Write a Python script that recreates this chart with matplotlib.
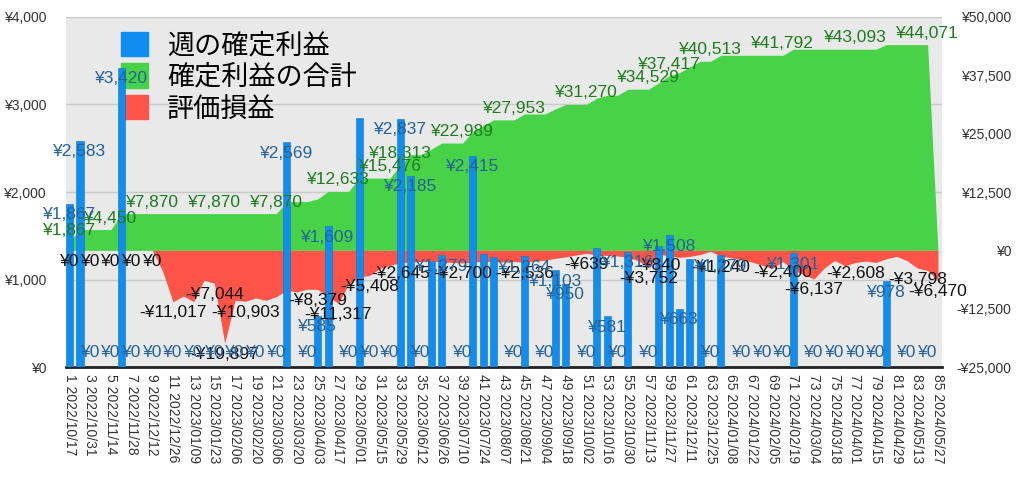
import matplotlib
matplotlib.use("Agg")
import matplotlib.pyplot as plt
import pandas as pd

plt.rcParams['font.family'] = ['Noto Sans CJK JP', 'DejaVu Sans']
NUM_FONT = ['Liberation Sans', 'DejaVu Sans']

# week numbers and start dates
weeks = list(range(1, 86))
dates = pd.date_range('2022-10-17', periods=85, freq='7D').strftime('%Y/%m/%d').tolist()

# 週の確定利益 (bars, left axis) - week 85 has no value
weekly = [1867, 2583, 0, 0, 0, 3420, 0, 0, 0, 0,
          0, 0, 0, 0, 0, 0, 0, 0, 0, 0,
          0, 2569, 0, 0, 585, 1609, 0, 0, 2843, 0,
          0, 0, 2837, 2185, 0, 1212, 1279, 0, 0, 2415,
          1292, 1257, 0, 0, 1264, 0, 0, 1103, 950, 0,
          0, 1362, 581, 0, 1316, 0, 0, 1380, 1508, 663,
          1230, 1203, 0, 1279, 0, 0, 0, 0, 0, 0,
          1301, 0, 0, 0, 0, 0, 0, 0, 0, 978,
          0, 0, 0, 0, None]

# 確定利益の合計 (green area, right axis)
cumulative = [1867, 4450, 4450, 4450, 4450, 7870, 7870, 7870, 7870, 7870,
              7870, 7870, 7870, 7870, 7870, 7870, 7870, 7870, 7870, 7870,
              7870, 10439, 10439, 10439, 11024, 12633, 12633, 12633, 15476, 15476,
              15476, 15476, 18313, 20498, 20498, 21710, 22989, 22989, 22989, 25404,
              26696, 27953, 27953, 27953, 29217, 29217, 29217, 30320, 31270, 31270,
              31270, 32632, 33213, 33213, 34529, 34529, 34529, 35909, 37417, 38080,
              39310, 40513, 40513, 41792, 41792, 41792, 41792, 41792, 41792, 41792,
              43093, 43093, 43093, 43093, 43093, 43093, 43093, 43093, 43093, 44071,
              44071, 44071, 44071, 44071, 0]

# 評価損益 (red area, right axis)
unrealized = [0, 0, 0, 0, 0, 0, 0, 0, 0, -4500,
              -11017, -9800, -11000, -6400, -7044, -19897, -10700, -10903, -10200, -10700,
              -9900, -8600, -8900, -8300, -8379, -10000, -11317, -7150, -5700, -5408,
              -3900, -3200, -2645, -2500, -2400, -2300, -2500, -2600, -2700, -2500,
              -2400, -2400, -2500, -2400, -2536, -2300, -2100, -1700, -1400, -1000,
              -639, -1000, -1100, -1200, -1500, -2200, -3752, -840, -1200, -1500,
              -1300, -900, -200, -1240, -1600, -2000, -2500, -3200, -3800, -2400,
              -4200, -5200, -6137, -3800, -2150, -3300, -2608, -2300, -2600, -1800,
              -1300, -2200, -3798, -4300, -6470]

# weeks whose value labels are visible in the original
weekly_shown = [1, 2, 3, 5, 6, 7, 9, 11, 13, 15, 17, 19, 21, 22, 24, 25, 26, 28, 30, 32,
                33, 34, 35, 37, 39, 40, 44, 45, 47, 48, 49, 51, 53, 54, 55, 57, 59, 60,
                63, 64, 66, 68, 70, 71, 73, 75, 77, 79, 80, 82, 84]
cumulative_shown = [1, 5, 9, 15, 21, 27, 32, 33, 39, 44, 51, 57, 59, 63, 70, 77, 84]
unrealized_shown = [1, 3, 5, 7, 9, 11, 15, 16, 18, 25, 27, 30, 33, 39, 45, 51, 57, 58,
                    64, 70, 73, 77, 83, 85]

BLUE = '#0f8ef0'
GREEN = '#47d247'
RED = '#ff5447'
BG = '#e9e9e9'


def yen(v):
    return ('-¥' if v < 0 else '¥') + f'{abs(v):,.0f}'


fig = plt.figure(figsize=(10.24, 4.8), dpi=100)
ax = fig.add_axes([0.0645, 0.2354, 0.855, 0.7292])
ax.set_facecolor(BG)
ax2 = ax.twinx()
ax2.patch.set_visible(False)

# areas on the right scale
ax.fill_between(weeks, 0, cumulative, color=GREEN, lw=0, zorder=2)
ax.fill_between(weeks, 0, unrealized, color=RED, lw=0, zorder=2)
ax.set_ylim(-25000, 50000)
ax.set_yticks([-25000, -12500, 0, 12500, 25000, 37500, 50000])
ax.set_yticklabels([yen(v) for v in ax.get_yticks()], family=NUM_FONT, color='#333333')
ax.yaxis.tick_right()
ax.tick_params(axis='y', length=0, pad=50.4, labelsize=10)
for t in ax.get_yticklabels():
    t.set_horizontalalignment('right')

# gridlines of the left scale, drawn behind the areas
for v in [1000, 2000, 3000, 4000]:
    ax.axhline(-25000 + v / 4000 * 75000, color='#c8c8c8', lw=1, zorder=1)

# bars on the left scale
bar_w = [0 if v is None else v for v in weekly]
ax2.bar(weeks, bar_w, width=0.68, color=BLUE, edgecolor='#1b6fc4', lw=0.4, zorder=3)
ax2.set_ylim(0, 4000)
ax2.set_yticks([0, 1000, 2000, 3000, 4000])
ax2.set_yticklabels([yen(v) for v in ax2.get_yticks()], family=NUM_FONT, color='#333333')
ax2.yaxis.tick_left()
ax2.tick_params(axis='y', length=0, pad=14.4, labelsize=10)

ax.set_xlim(0.65, 85.35)
ax.set_xticks(weeks[::2])
ax.set_xticklabels([f'{w} {d}' for w, d in zip(weeks[::2], dates[::2])],
                   rotation=-90, fontsize=10, family=NUM_FONT, color='#333333')
ax.tick_params(axis='x', length=0, pad=5)

for a in (ax, ax2):
    for s in ['top', 'left', 'right']:
        a.spines[s].set_visible(False)
ax2.spines['bottom'].set_visible(False)
ax.spines['bottom'].set_color('#222222')
ax.spines['bottom'].set_linewidth(2)

# value labels
for w in cumulative_shown:
    v = cumulative[w - 1]
    ax2.annotate(yen(v), xy=(w, v), xycoords=ax.transData, xytext=(0, 11.5),
                 textcoords='offset pixels', ha='center', va='center', family=NUM_FONT,
                 color='#1c7d1c', fontsize=12.5, zorder=5)
for w in unrealized_shown:
    v = unrealized[w - 1]
    ax2.annotate(yen(v), xy=(w, v), xycoords=ax.transData, xytext=(0, -11),
                 textcoords='offset pixels', ha='center', va='center', family=NUM_FONT,
                 color='#111111', fontsize=12.5, zorder=5)
for w in weekly_shown:
    v = weekly[w - 1]
    ax2.annotate(yen(v), xy=(w, v), xycoords=ax2.transData,
                 xytext=(0, -11 if v > 0 else 15),
                 textcoords='offset pixels', ha='center', va='center', family=NUM_FONT,
                 color='#23629a', fontsize=12.5, zorder=5)

# legend sits on the lower axes so bars and labels paint over it
handles = [plt.Rectangle((0, 0), 1, 1, color=c) for c in (BLUE, GREEN, RED)]
ax.legend(handles, ['週の確定利益', '確定利益の合計', '評価損益'],
          loc='upper left', bbox_to_anchor=(0.118, 0.934),
          bbox_transform=fig.transFigure, frameon=False,
          fontsize=19.5, handlelength=1.0, handleheight=1.0,
          labelspacing=0.16, handletextpad=0.7, borderpad=0, borderaxespad=0)

fig.savefig('out.png', dpi=100)
